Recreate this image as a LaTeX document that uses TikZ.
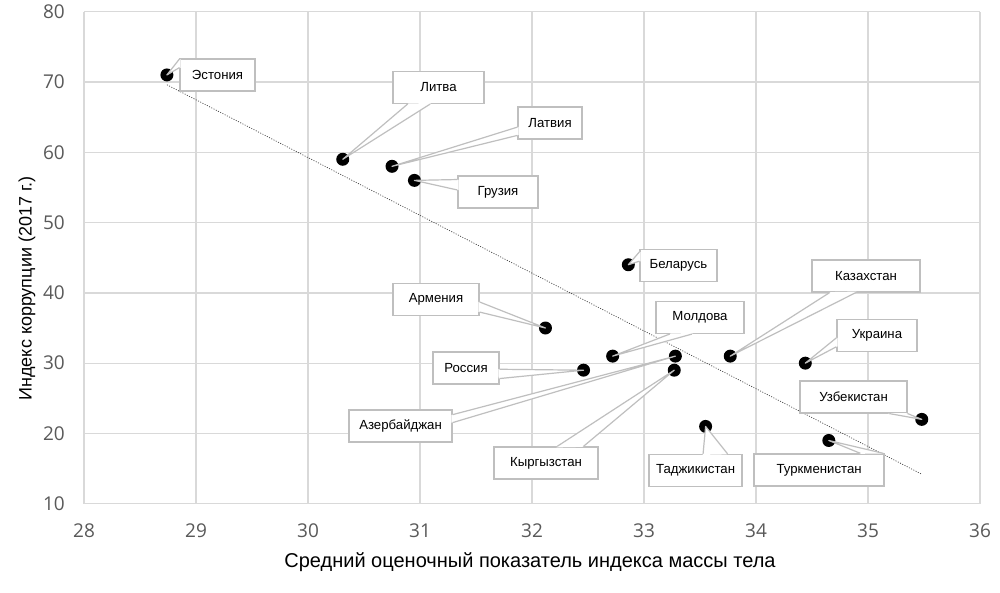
\documentclass[tikz,border=0pt]{standalone}
\usepackage{fontspec}
\setmainfont{Liberation Sans}
\newfontfamily\tickfont{Open Sans}
\usepackage{tikz}
\usetikzlibrary{calc}
\definecolor{gridgray}{HTML}{D9D9D9}
\definecolor{boxgray}{HTML}{BFBFBF}
\definecolor{tickgray}{HTML}{595959}
\tikzstyle{datapoint}=[circle,fill=black,draw=none,minimum size=13pt,inner sep=0pt]
\tikzstyle{countrybox}=[rectangle,draw=boxgray,fill=white,line width=1.2pt,minimum height=32pt,inner sep=0pt,font=\fontsize{13.2}{15}\selectfont]
\tikzstyle{wedgefill}=[fill=white]
\tikzstyle{wedgeline}=[draw=boxgray,line width=1.2pt,line join=round]
\tikzstyle{gridline}=[draw=gridgray,line width=1.3pt]
\tikzstyle{trend}=[draw=black!75,line width=0.7pt,dash pattern=on 1pt off 1.5pt]
\tikzset{ticklabel/.style={text=tickgray,font=\tickfont\fontsize{19}{21}\selectfont,inner sep=0pt}}
\tikzset{axistitle/.style={font=\fontsize{20}{22}\selectfont,inner sep=0pt,anchor=base}}

\begin{document}
\begin{tikzpicture}[x=112pt,y=7.03pt]

  \useasboundingbox (27.25,-2.69) rectangle (36.179,81.66);

  % grid
  \foreach \x in {28,...,36}
     \draw[gridline] (\x,10) -- (\x,80);
  \foreach \y in {10,20,...,80}
     \draw[gridline] (28,\y) -- (36,\y);

  \foreach \x in {28,...,36}
     \node[ticklabel,yshift=-27pt] (xt\x) at (\x,10) {\x};
  \foreach \y in {10,20,...,80}
     \node[ticklabel,anchor=east,xshift=-19pt] (yt\y) at (28,\y) {\y};

  \node[axistitle] (xtitle) at (31.982,0.87) {Средний оценочный показатель индекса массы тела};
  \node[axistitle,rotate=90,font=\fontsize{18}{20}\selectfont] (ytitle) at (27.531,40.63) {Индекс коррупции (2017 г.)};

  % trend
  \coordinate (tra) at (28.74,69.6);
  \coordinate (trb) at (35.48,14.2);
  \draw[trend] (tra) -- (trb);

  \foreach \name/\x/\y in {est/28.74/71, lit/30.31/59, lat/30.75/58, gru/30.95/56, bel/32.86/44,
                           arm/32.12/35, mol/32.72/31, ros/32.46/29, aze/33.28/31, kyr/33.27/29,
                           taj/33.55/21, kaz/33.77/31, ukr/34.44/30, uzb/35.48/22, tur/34.65/19}
     \node[datapoint] (\name) at (\x,\y) {};

  \foreach \name/\x/\y/\w/\label in {est/29.192/71.00/75/Эстония, lit/31.165/69.22/91/Литва,
                                     lat/32.161/64.17/64/Латвия, gru/31.696/54.35/80/Грузия,
                                     bel/33.308/43.94/77/Беларусь, kaz/34.982/42.40/108/Казахстан,
                                     arm/31.143/39.06/86/Армения, mol/33.500/36.50/88/Молдова,
                                     ros/31.411/29.32/66/Россия, aze/30.826/21.07/103/Азербайджан,
                                     kyr/32.125/15.80/104/Кыргызстан, taj/33.460/14.74/93/Таджикистан,
                                     ukr/35.080/33.98/80/Украина, uzb/34.871/25.19/107/Узбекистан,
                                     tur/34.563/14.81/130/Туркменистан}
     \node[countrybox,minimum width={\w pt}] (\name box) at (\x,\y) {\label};

  % pointers
  \foreach \name/\ca/\cb/\fa/\fb in {est/north west/south west/0.02/0.28, lit/south west/south east/0.165/0.41,
                                     lat/north west/south west/0.625/0.875, gru/north west/south west/0.125/0.44,
                                     bel/north west/south west/0.1/0.38, kaz/south west/south east/0.167/0.407,
                                     arm/north east/south east/0.576/0.88, mol/south west/south east/0.16/0.41,
                                     ros/north east/south east/0.54/0.82, aze/north east/south east/0.16/0.40,
                                     kyr/north west/north east/0.606/0.856, taj/north west/north east/0.58/0.84,
                                     ukr/north west/south west/0.58/0.85, uzb/south west/south east/0.83/1.0,
                                     tur/north west/north east/0.815/0.99}{
     \coordinate (\name a) at ($(\name box.\ca)!\fa!(\name box.\cb)$);
     \coordinate (\name b) at ($(\name box.\ca)!\fb!(\name box.\cb)$);
     \fill[wedgefill] (\name a) -- ($(\name a)!1.2pt!(\name box.center)$) -- ($(\name b)!1.2pt!(\name box.center)$)
                      -- (\name b) -- (\name.center) -- cycle;
     \draw[wedgeline] (\name a) -- (\name.center) -- (\name b);
  }

\end{tikzpicture}
\end{document}
